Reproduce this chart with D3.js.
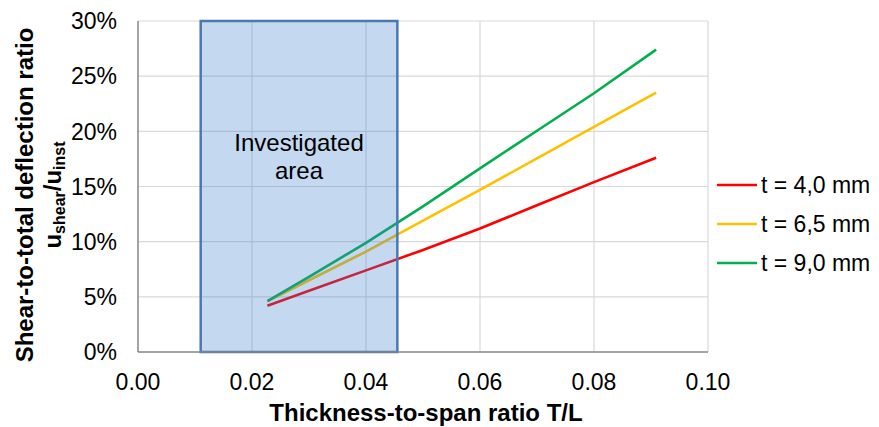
<!DOCTYPE html>
<html>
<head>
<meta charset="utf-8">
<script src="https://cdn.jsdelivr.net/npm/d3@7"></script>
<style>
  body { margin: 0; background: #fff; }
  svg { display: block; font-family: "Liberation Sans", Arial, sans-serif; }
</style>
</head>
<body>
<svg width="879" height="427"></svg>
<script>
// thickness-to-span ratio T/L
const ratios = [0.0227, 0.03, 0.04, 0.05, 0.06, 0.07, 0.08, 0.0909];
// shear-to-total deflection ratio per plate thickness
const t40 = [0.042, 0.0555, 0.074, 0.0925, 0.112, 0.133, 0.154, 0.176];
const t65 = [0.046, 0.065, 0.091, 0.119, 0.147, 0.1755, 0.204, 0.235];
const t90 = [0.046, 0.068, 0.099, 0.132, 0.1665, 0.2005, 0.2345, 0.274];

const seriesNames = ["t = 4,0 mm", "t = 6,5 mm", "t = 9,0 mm"];
const seriesColors = ["#ff0000", "#ffc000", "#00b050"];
const xTicks = [0, 0.02, 0.04, 0.06, 0.08, 0.10];
const yTicks = [0, 0.05, 0.10, 0.15, 0.20, 0.25, 0.30];
const areaRange = [0.011, 0.0455]; // investigated area

const series = [t40, t65, t90].map((vals, i) => ({
    name: seriesNames[i],
    color: seriesColors[i],
    points: ratios.map((r, j) => [r, vals[j]])
}));

const svg = d3.select("svg");
const x = d3.scaleLinear().domain([0, 0.1]).range([138, 708]);
const y = d3.scaleLinear().domain([0, 0.3]).range([352, 21]);

// grid
const grid = svg.append("g");
grid.selectAll(".hg")
    .data(yTicks.slice(1))
    .join("line")
    .attr("x1", x(0)).attr("x2", x(0.1))
    .attr("y1", d => y(d)).attr("y2", d => y(d))
    .attr("stroke", "#d9d9d9").attr("stroke-width", 1.2);
grid.selectAll(".vg")
    .data(xTicks.slice(1))
    .join("line")
    .attr("x1", d => x(d)).attr("x2", d => x(d))
    .attr("y1", y(0)).attr("y2", y(0.3))
    .attr("stroke", "#d9d9d9").attr("stroke-width", 1.2);

// series lines
const line = d3.line().x(d => x(d[0])).y(d => y(d[1]));
svg.append("g")
    .selectAll("path")
    .data(series)
    .join("path")
    .attr("d", d => line(d.points))
    .attr("fill", "none")
    .attr("stroke", d => d.color)
    .attr("stroke-width", 2.6);

// investigated area box, translucent over the lines
svg.append("rect")
    .attr("x", x(areaRange[0]))
    .attr("y", y(0.3))
    .attr("width", x(areaRange[1]) - x(areaRange[0]))
    .attr("height", y(0) - y(0.3))
    .attr("fill", "rgb(60,125,205)")
    .attr("fill-opacity", 0.3)
    .attr("stroke", "#4a79b2")
    .attr("stroke-width", 2.5);

svg.append("text")
    .attr("text-anchor", "middle")
    .attr("font-size", 24)
    .attr("fill", "#000")
    .selectAll("tspan")
    .data(["Investigated", "area"])
    .join("tspan")
    .attr("x", (x(areaRange[0]) + x(areaRange[1])) / 2)
    .attr("y", (d, i) => 151 + i * 28)
    .text(d => d);

// axes lines
svg.append("line")
    .attr("x1", x(0)).attr("x2", x(0))
    .attr("y1", y(0)).attr("y2", y(0.3))
    .attr("stroke", "#868686").attr("stroke-width", 1.5);
svg.append("line")
    .attr("x1", x(0)).attr("x2", x(0.1))
    .attr("y1", y(0)).attr("y2", y(0))
    .attr("stroke", "#868686").attr("stroke-width", 1.5);

// tick labels
svg.append("g")
    .selectAll("text")
    .data(yTicks)
    .join("text")
    .attr("x", 117)
    .attr("y", d => y(d))
    .attr("dy", "0.36em")
    .attr("text-anchor", "end")
    .attr("font-size", 23)
    .text(d => d3.format(".0%")(d));

svg.append("g")
    .selectAll("text")
    .data(xTicks)
    .join("text")
    .attr("x", d => x(d))
    .attr("y", 390)
    .attr("text-anchor", "middle")
    .attr("font-size", 23)
    .text(d => d3.format(".2f")(d));

// axis titles
svg.append("text")
    .attr("x", 426)
    .attr("y", 421)
    .attr("text-anchor", "middle")
    .attr("font-size", 24)
    .attr("font-weight", "bold")
    .text("Thickness-to-span ratio T/L");

svg.append("text")
    .attr("transform", "translate(33,195) rotate(-90)")
    .attr("text-anchor", "middle")
    .attr("font-size", 24)
    .attr("font-weight", "bold")
    .text("Shear-to-total deflection ratio");

const yt2 = svg.append("text")
    .attr("transform", "translate(61,195) rotate(-90)")
    .attr("text-anchor", "middle")
    .attr("font-size", 24)
    .attr("font-weight", "bold");
yt2.append("tspan").text("u");
yt2.append("tspan").attr("font-size", 16).attr("dy", 4).text("shear");
yt2.append("tspan").attr("dy", -4).text("/u");
yt2.append("tspan").attr("font-size", 16).attr("dy", 4).text("inst");

// legend
const legend = svg.append("g")
    .selectAll("g")
    .data(series)
    .join("g")
    .attr("transform", (d, i) => `translate(717,${185 + i * 39})`);
legend.append("line")
    .attr("x1", 0).attr("x2", 40)
    .attr("stroke", d => d.color)
    .attr("stroke-width", 2.6);
legend.append("text")
    .attr("x", 44)
    .attr("y", 8)
    .attr("font-size", 23)
    .text(d => d.name);
</script>
</body>
</html>
